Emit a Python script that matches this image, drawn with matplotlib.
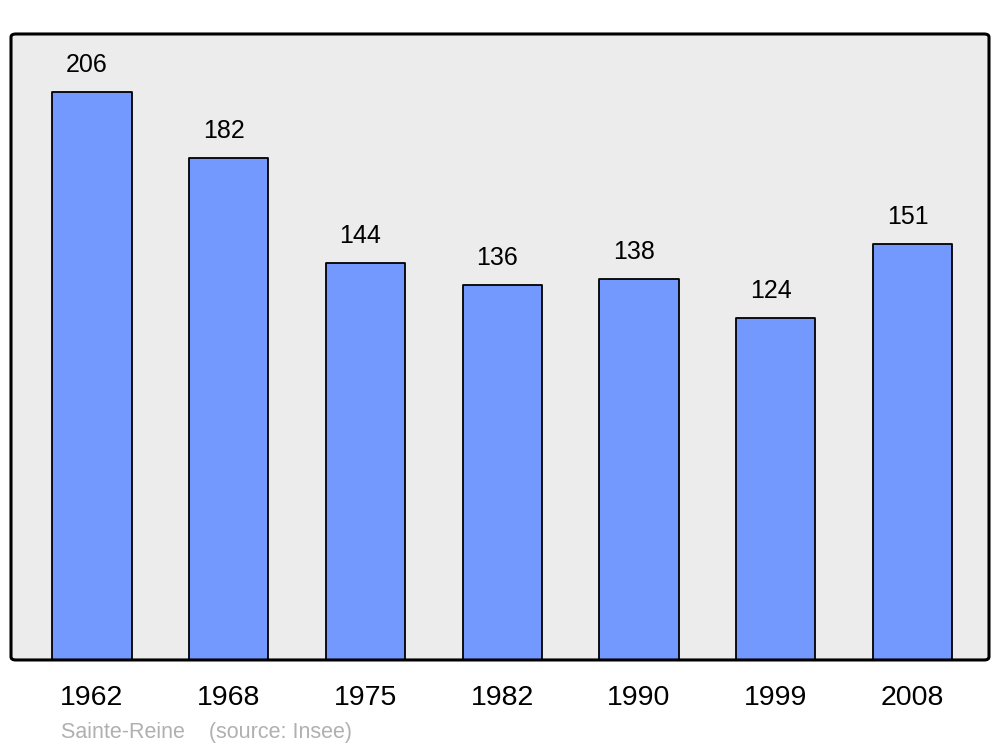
import matplotlib.pyplot as plt
from matplotlib.patches import FancyBboxPatch

# Population data
years = ["1962", "1968", "1975", "1982", "1990", "1999", "2008"]
population = [206, 182, 144, 136, 138, 124, 151]
place = "Sainte-Reine"
source = "(source: Insee)"

plt.rcParams['font.family'] = ['Liberation Sans', 'DejaVu Sans']

fig = plt.figure(figsize=(10, 7.47), dpi=100)
ax = fig.add_axes([0.011, 0.1165, 0.978, 0.838])
ax.set_facecolor("none")

# rounded frame: fill below the bars, outline above
box = dict(boxstyle="round,pad=0,rounding_size=0.005", transform=ax.transAxes,
           clip_on=False)
ax.add_patch(FancyBboxPatch((0, 0), 1, 1, facecolor="#ececec",
                            edgecolor="none", zorder=0, **box))
ax.add_patch(FancyBboxPatch((0, 0), 1, 1, facecolor="none",
                            edgecolor="black", linewidth=2.2, zorder=3, **box))

x = list(range(len(years)))
bars = ax.bar(x, population, width=0.58, color="#7399ff",
              edgecolor="black", linewidth=1.3, zorder=2)
for b in bars:
    b.set_joinstyle("round")

for xi, v in zip(x, population):
    ax.annotate(str(v), (xi, v), xytext=(-5, 27), textcoords="offset pixels",
                ha="center", va="center", fontsize=18)

ax.set_xlim(-0.592, 6.559)
ax.set_ylim(0, 227)
ax.set_xticks(x)
ax.set_xticklabels(years, fontsize=20.5)
ax.tick_params(axis="x", length=0, pad=18)
ax.set_yticks([])
for s in ax.spines.values():
    s.set_visible(False)

fig.text(0.061, 0.020, place + "    " + source, color="#b0b0b0",
         fontsize=15.5, ha="left", va="center")

fig.savefig("out.png", dpi=100)
